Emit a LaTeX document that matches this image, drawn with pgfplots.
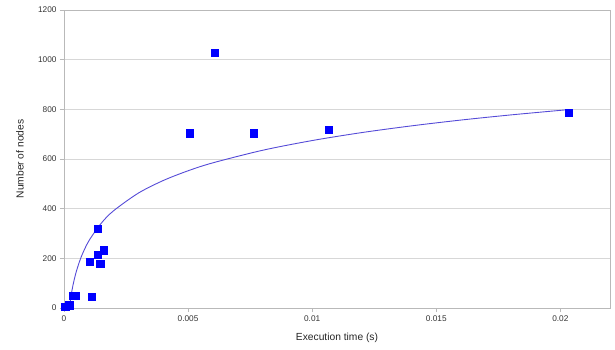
\documentclass[border=0pt]{standalone}
\usepackage{fontspec}
\setmainfont{Liberation Sans}
\usepackage{pgfplots}
\pgfplotsset{compat=1.18}
\definecolor{gridc}{RGB}{215,215,215}
\definecolor{framec}{RGB}{185,185,185}
\definecolor{trend}{RGB}{85,75,215}
\begin{document}
\begin{tikzpicture}
\path (-64bp,-42bp) rectangle (551bp,308bp);
\begin{axis}[
  at={(0,0)}, anchor=south west,
  scale only axis, width=546bp, height=298bp,
  xmin=0, xmax=0.022, ymin=0, ymax=1200,
  scaled ticks=false,
  xtick={0,0.005,0.01,0.015,0.02},
  xticklabels={0,0.005,0.01,0.015,0.02},
  ytick={0,200,400,600,800,1000,1200},
  yticklabels={0,200,400,600,800,1000,1200},
  ymajorgrids, major grid style={gridc, line width=0.6pt},
  axis line style={framec, line width=0.6pt},
  tick style={framec, line width=0.6pt},
  tick align=outside, major tick length=4bp,
  xtick pos=bottom, ytick pos=left,
  tick label style={font=\fontsize{8.3}{10}\selectfont, text=black!80},
  xlabel={Execution time (s)}, ylabel={Number of nodes},
  label style={font=\fontsize{10.3}{12}\selectfont, text=black!85},
  xlabel style={at={(axis description cs:0.5,0)}, anchor=center, yshift=-30bp},
  ylabel style={at={(axis description cs:0,0.5)}, anchor=center, yshift=44bp},
  clip=true,
]
\addplot[trend, line width=0.9pt, no marks, smooth] coordinates {
(0.00022,4.1) (0.00025,26.6) (0.0003,58.6) (0.00035,85.6) (0.0004,109.1) (0.0005,148.3)
(0.0007,207.4) (0.001,270.0) (0.0015,341.2) (0.002,391.7) (0.003,462.9)
(0.004,513.4) (0.005,552.6) (0.006,584.6) (0.008,635.1) (0.010,674.3)
(0.012,706.4) (0.014,733.4) (0.016,756.9) (0.018,777.5) (0.0204,799.5)
};
\addplot[only marks, mark=square*, mark size=3.6pt, color=blue, mark options={fill=blue, draw=blue}] coordinates {
(0.00005,5) (0.00021,11) (0.00034,49) (0.00047,49) (0.00111,45)
(0.00105,187) (0.00136,216) (0.00146,179) (0.0016,233) (0.00136,318)
(0.00507,704) (0.00607,1028) (0.00764,704) (0.01066,717) (0.02035,785)
};
\end{axis}
\end{tikzpicture}
\end{document}
